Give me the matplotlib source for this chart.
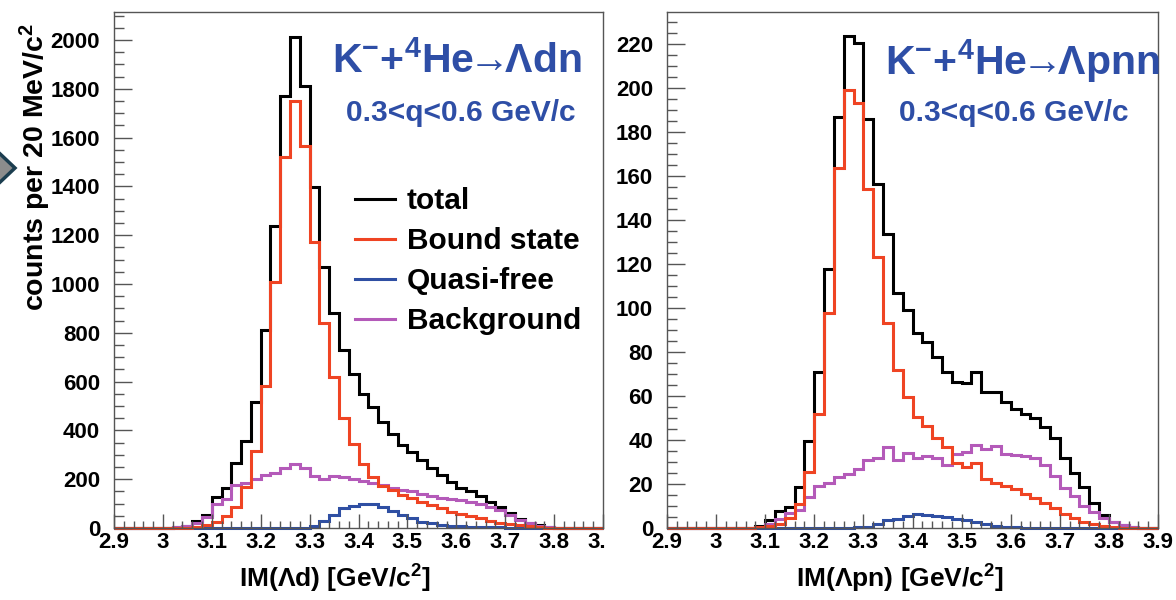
import numpy as np
import matplotlib
matplotlib.use("Agg")
from matplotlib import pyplot as plt
from matplotlib.patches import Polygon, Rectangle
from matplotlib.ticker import FixedLocator, MultipleLocator, FuncFormatter

plt.rcParams["font.family"] = ["Liberation Sans", "DejaVu Sans"]
plt.rcParams["font.weight"] = "bold"
plt.rcParams["mathtext.fontset"] = "custom"
plt.rcParams["mathtext.rm"] = "Liberation Sans:bold"
plt.rcParams["mathtext.bf"] = "Liberation Sans:bold"
plt.rcParams["mathtext.it"] = "Liberation Sans:bold"

# 50 bins of 20 MeV/c^2 between 2.9 and 3.9 GeV/c^2
bin_edges = np.linspace(2.9, 3.9, 51)

# K- + 4He -> Lambda d n
total_ad = [0, 0, 0, 0, 0, 0, 3, 10, 30, 55,
            128, 163, 268, 358, 517, 810, 1237, 1772, 2013, 1813,
            1397, 1071, 882, 728, 633, 551, 496, 435, 387, 339,
            312, 278, 244, 217, 189, 162, 150, 130, 108, 85,
            62, 38, 22, 11, 5, 2, 0, 0, 0, 0]
bound_ad = [0, 0, 0, 0, 0, 0, 0, 2, 5, 12,
            25, 50, 85, 170, 315, 584, 1010, 1521, 1750, 1566,
            1173, 840, 620, 450, 346, 264, 210, 172, 155, 135,
            121, 108, 94, 80, 67, 57, 49, 40, 30, 22,
            16, 11, 8, 4, 2, 1, 0, 0, 0, 0]
quasi_ad = [0, 0, 0, 0, 0, 0, 0, 0, 0, 0,
            0, 0, 0, 0, 0, 0, 0, 0, 0, 2,
            8, 28, 55, 80, 92, 98, 98, 87, 71, 53,
            40, 26, 19, 12, 10, 8, 6, 5, 4, 3,
            2, 1, 0, 0, 0, 0, 0, 0, 0, 0]
bg_ad = [0, 0, 0, 0, 0, 0, 3, 8, 20, 45,
         100, 118, 175, 185, 200, 218, 226, 245, 262, 245,
         215, 200, 215, 208, 200, 194, 185, 175, 165, 157,
         150, 140, 130, 125, 118, 114, 108, 100, 88, 72,
         52, 32, 19, 10, 4, 1, 0, 0, 0, 0]

# K- + 4He -> Lambda p n n
total_apn = [0, 0, 0, 0, 0, 0, 0, 0, 0, 1,
             3.6, 7.7, 9.4, 18.8, 39.5, 70.8, 117.7, 186.7, 223.6, 220.6,
             185.8, 156.2, 133.5, 106.8, 98.9, 88.5, 84.7, 77.9, 71, 66.5,
             65.8, 71, 62, 61.6, 57.4, 54, 52, 49.8, 46, 40.8,
             31.7, 24.8, 18.8, 11.2, 5.9, 2.9, 1.4, 0.6, 0, 0]
bound_apn = [0, 0, 0, 0, 0, 0, 0, 0, 0, 0.3,
             1, 2, 4.5, 11, 25.6, 52, 97.6, 163.5, 199, 193,
             154, 123, 93, 72, 59.7, 50.3, 46.4, 40.8, 37, 29.7,
             27.6, 29.4, 22.3, 20.6, 19, 17.5, 15.5, 13.5, 11.2, 9,
             6.5, 4.5, 2.8, 1.6, 0.8, 0.3, 0, 0, 0, 0]
quasi_apn = [0, 0, 0, 0, 0, 0, 0, 0, 0, 0,
             0, 0, 0, 0, 0, 0, 0, 0, 0.1, 0.3,
             0.6, 2, 3.6, 4, 5.6, 6.4, 5.9, 5.6, 4.8, 4,
             3.6, 2.6, 1.8, 1, 0.6, 0.4, 0.2, 0.1, 0, 0,
             0, 0, 0, 0, 0, 0, 0, 0, 0, 0]
bg_apn = [0, 0, 0, 0, 0, 0, 0, 0, 0, 0.5,
          2, 4, 7, 8, 14, 19, 20.5, 23, 24.5, 27,
          31, 31.8, 36.8, 31, 34, 31.8, 32.7, 31.8, 28.8, 33.6,
          34.7, 37.7, 35.8, 37.3, 33.6, 33.2, 32.7, 31.8, 28.8, 23.5,
          18.2, 14.5, 10, 7.3, 4.7, 2.7, 1.2, 0.4, 0, 0]

labels = ["total", "Bound state", "Quasi-free", "Background"]
colors = ["#000000", "#ef4423", "#2f4fa3", "#b45ab9"]
title_blue = "#2e4ea6"

x_ticks = np.round(np.arange(2.9, 3.95, 0.1), 1)

W, H = 1176, 600
fig = plt.figure(figsize=(W / 100, H / 100), dpi=100)


def px(x0, y0, x1, y1):
    return [x0 / W, 1 - y1 / H, (x1 - x0) / W, (y1 - y0) / H]


def draw_panel(ax, total, bound, quasi, bg, ymax, ymajor, yminor):
    series = [total, bound, quasi, bg]
    handles = {}
    for i in [0, 3, 2, 1]:
        h = ax.stairs(series[i], bin_edges, color=colors[i], lw=2.2,
                      label=labels[i], clip_on=False, baseline=None)
        handles[i] = h
    ax.set_xlim(2.9, 3.9)
    ax.set_ylim(0, ymax)
    ax.xaxis.set_major_locator(FixedLocator(x_ticks))
    ax.xaxis.set_minor_locator(MultipleLocator(0.02))
    ax.xaxis.set_major_formatter(FuncFormatter(lambda v, p: f"{v:.1f}".rstrip("0").rstrip(".")))
    ax.yaxis.set_major_locator(MultipleLocator(ymajor))
    ax.yaxis.set_minor_locator(MultipleLocator(yminor))
    ax.tick_params(axis="both", which="both", direction="in", color="#555555",
                   labelsize=16, top=False, right=False)
    ax.tick_params(axis="x", which="major", length=10, width=1, pad=3)
    ax.tick_params(axis="x", which="minor", length=5, width=1)
    ax.tick_params(axis="y", which="major", length=13, width=1, pad=10)
    ax.tick_params(axis="y", which="minor", length=7, width=1)
    for s in ax.spines.values():
        s.set_color("#555555")
        s.set_linewidth(1.0)
    return [handles[i] for i in range(4)]


ax1 = fig.add_axes(px(114, 12, 603, 528))
ax1.set_zorder(0)
h1 = draw_panel(ax1, total_ad, bound_ad, quasi_ad, bg_ad, 2115, 200, 50)

# white canvas of the second panel hides the end of the first axis
fig.patches.append(Rectangle((606 / W, 0), 1 - 606 / W, 1, transform=fig.transFigure,
                             facecolor="white", edgecolor="none", zorder=0.5))

ax2 = fig.add_axes(px(667, 12, 1158, 528))
ax2.set_zorder(1)
h2 = draw_panel(ax2, total_apn, bound_apn, quasi_apn, bg_apn, 234.5, 20, 5)

ax1.set_xlabel(r"IM($\Lambda$d) [GeV/c$^{2}$]", fontsize=19, fontweight="bold")
ax1.xaxis.set_label_coords(0.452, -0.068)
ax2.set_xlabel(r"IM($\Lambda$pn) [GeV/c$^{2}$]", fontsize=19, fontweight="bold")
ax2.xaxis.set_label_coords(0.475, -0.068)

ax1.set_ylabel(r"counts per 20 MeV/c$^{2}$", fontsize=20.5, fontweight="bold",
               va="center", ha="center")
ax1.yaxis.set_label_coords(-0.16, 0.70)

ax1.text(0.701, 0.905, r"$\mathbf{K^{-}{+}^{4}He\!\!{\rightarrow}\!\!\Lambda dn}$",
         transform=ax1.transAxes, color=title_blue, fontsize=29.5,
         ha="center", va="center")
ax1.text(0.71, 0.805, "0.3<q<0.6 GeV/c", transform=ax1.transAxes,
         color=title_blue, fontsize=21.5, ha="center", va="center")
ax2.text(0.723, 0.905, r"$\mathbf{K^{-}{+}^{4}He\!\!{\rightarrow}\!\!\Lambda pnn}$",
         transform=ax2.transAxes, color=title_blue, fontsize=29.5,
         ha="center", va="center")
ax2.text(0.707, 0.805, "0.3<q<0.6 GeV/c", transform=ax2.transAxes,
         color=title_blue, fontsize=21.5, ha="center", va="center")

ax1.legend(handles=h1, labels=labels, loc="upper left",
           bbox_to_anchor=(0.493, 0.660), frameon=False, fontsize=21.5,
           handlelength=1.33, handletextpad=0.4, labelspacing=0.4,
           borderpad=0, borderaxespad=0)

# grey arrow mark at the left edge of the slide
fig.patches.append(Polygon([(-4 / W, 1 - 150 / H), (15 / W, 1 - 168 / H), (-4 / W, 1 - 186 / H)],
                           closed=True, transform=fig.transFigure,
                           facecolor="#8c8c8c", edgecolor="#1b3d4f", lw=2.5))

fig.savefig("out.png", dpi=100)
